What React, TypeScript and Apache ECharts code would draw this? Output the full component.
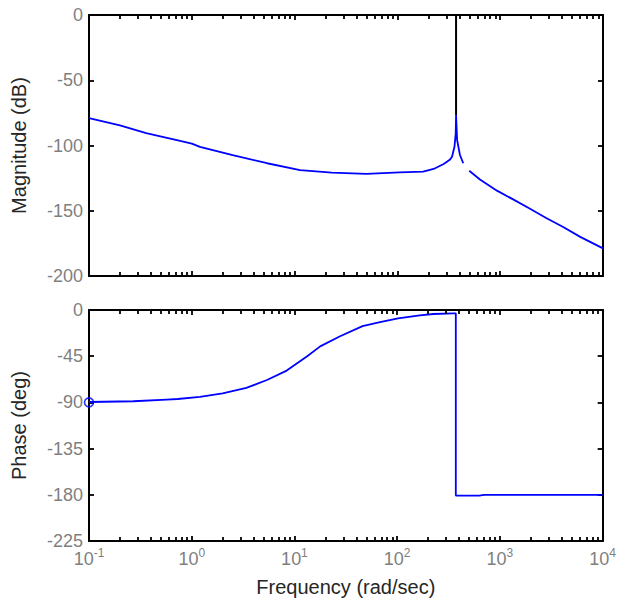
import React, { useEffect, useRef } from 'react';
import * as echarts from 'echarts';

// Magnitude (dB) vs frequency (rad/sec)
const magFreq = [0.1, 0.2, 0.36, 0.77, 1, 1.2, 2.5, 5.4, 11.3, 23, 50, 105, 178, 225, 282, 323, 340, 359, 369, 372, 381, 406, 437, 465, 500, 635, 930, 1350, 1950, 2800, 4100, 6000, 10000];
const magDb = [-79, -84.6, -90.5, -96.5, -98.5, -101, -107.3, -113.6, -118.8, -120.8, -121.8, -120.6, -120, -118, -114.2, -111, -108.6, -101, -91, -76.6, -95.8, -107.3, -113.6, null, -119.3, -126, -134.6, -141.5, -148.5, -155.5, -162.5, -170, -178.8];

// Spike drawn in black above the resonance peak
const spikeFreq = [372, 372];
const spikeDb = [-76.6, 0];

// Phase (deg) vs frequency (rad/sec)
const phaseFreq = [0.1, 0.27, 0.57, 0.73, 1.2, 2.0, 3.4, 5.4, 8.4, 13.2, 17.8, 27.8, 46, 68, 102, 166, 225, 355, 372, 372, 630, 700, 10000];
const phaseDeg = [-89.6, -88.9, -87.2, -86.7, -84.6, -81.3, -75.8, -68.2, -59, -45.3, -35.4, -25.6, -15.7, -11.8, -8.2, -5.2, -3.9, -3.2, -3.2, -180.8, -180.8, -180, -180];

// Start marker
const markerFreq = [0.1];
const markerDeg = [-90];

// Axis ranges / ticks
const decades = [0.1, 1, 10, 100, 1000];
const minorMultipliers = [2, 3, 4, 5, 6, 7, 8, 9];
const magRange = [-200, 0];
const magStep = 50;
const phaseRange = [-225, 0];
const phaseStep = 45;

const minorFreqs: number[] = [];
decades.forEach((d) => minorMultipliers.forEach((m) => minorFreqs.push(d * m)));

const LABEL_COLOR = '#7f7f7f';
const NAME_COLOR = '#262626';
const FONT = 'Liberation Sans, Arial, sans-serif';

// minor tick segments at bottom and top edges, in data units (tickLen ≈ 4px of the axis)
function minorTickMarkLine(range: number[], tickLen: number) {
  const data: any[] = [];
  minorFreqs.forEach((f) => {
    data.push([{ coord: [f, range[0]] }, { coord: [f, range[0] + tickLen] }]);
    data.push([{ coord: [f, range[1]] }, { coord: [f, range[1] - tickLen] }]);
  });
  return {
    silent: true,
    symbol: ['none', 'none'],
    label: { show: false },
    emphasis: { disabled: true },
    lineStyle: { color: '#000', width: 1.8, type: 'solid' },
    data,
  };
}

function xAxisDef(gridIndex: number, position: 'top' | 'bottom', withLabels: boolean) {
  return {
    type: 'log',
    logBase: 10,
    gridIndex,
    position,
    min: 0.1,
    max: 10000,
    splitNumber: 5,
    axisLine: { show: true, onZero: false, lineStyle: { color: '#000', width: 2 } },
    axisTick: { show: true, inside: true, length: 5, lineStyle: { color: '#000', width: 1.8 } },
    splitLine: { show: false },
    minorTick: { show: false },
    axisLabel: withLabels
      ? {
          show: true,
          margin: 6,
          color: LABEL_COLOR,
          fontFamily: FONT,
          formatter: (v: number) => `{b|10}{sup|${Math.round(Math.log10(v))}}`,
          rich: {
            b: { fontSize: 18, color: LABEL_COLOR, fontFamily: FONT, verticalAlign: 'bottom' },
            sup: { fontSize: 12, color: LABEL_COLOR, fontFamily: FONT, verticalAlign: 'bottom', padding: [0, 0, 9, 0] },
          },
        }
      : { show: false },
    name: withLabels ? 'Frequency (rad/sec)' : '',
    nameLocation: 'middle',
    nameGap: 36,
    nameTextStyle: { color: NAME_COLOR, fontSize: 20, fontFamily: FONT },
  };
}

function yAxisDef(gridIndex: number, position: 'left' | 'right', range: number[], step: number, name: string) {
  const left = position === 'left';
  return {
    type: 'value',
    gridIndex,
    position,
    min: range[0],
    max: range[1],
    interval: step,
    axisLine: { show: true, onZero: false, lineStyle: { color: '#000', width: 2 } },
    axisTick: { show: true, inside: true, length: 5, lineStyle: { color: '#000', width: 1.8 } },
    splitLine: { show: false },
    axisLabel: left
      ? { show: true, margin: 6, color: LABEL_COLOR, fontSize: 18, fontFamily: FONT }
      : { show: false },
    name: left ? name : '',
    nameLocation: 'middle',
    nameGap: 60,
    nameTextStyle: { color: NAME_COLOR, fontSize: 20, fontFamily: FONT },
  };
}

export default function App() {
  const ref = useRef<HTMLDivElement>(null);

  useEffect(() => {
    if (!ref.current) return;
    const chart = echarts.init(ref.current, undefined, { renderer: 'svg' });
    const line = (freq: number[], vals: (number | null)[]) =>
      freq.map((f, i) => [f, vals[i] === null ? '-' : vals[i]]);

    chart.setOption({
      animation: false,
      backgroundColor: '#ffffff',
      textStyle: { fontFamily: FONT },
      grid: [
        { left: 89, top: 15, width: 514, height: 261, containLabel: false },
        { left: 89, top: 310, width: 514, height: 231, containLabel: false },
      ],
      xAxis: [
        xAxisDef(0, 'bottom', false),
        xAxisDef(0, 'top', false),
        xAxisDef(1, 'bottom', true),
        xAxisDef(1, 'top', false),
      ],
      yAxis: [
        yAxisDef(0, 'left', magRange, magStep, 'Magnitude (dB)'),
        yAxisDef(0, 'right', magRange, magStep, ''),
        yAxisDef(1, 'left', phaseRange, phaseStep, 'Phase (deg)'),
        yAxisDef(1, 'right', phaseRange, phaseStep, ''),
      ],
      series: [
        {
          type: 'line',
          xAxisIndex: 0,
          yAxisIndex: 0,
          data: line(magFreq, magDb),
          showSymbol: false,
          connectNulls: false,
          lineStyle: { color: '#0000ff', width: 1.8 },
          itemStyle: { color: '#0000ff' },
          z: 3,
          markLine: minorTickMarkLine(magRange, 3.1),
        },
        {
          type: 'line',
          xAxisIndex: 0,
          yAxisIndex: 0,
          data: line(spikeFreq, spikeDb),
          showSymbol: false,
          lineStyle: { color: '#000000', width: 2 },
          itemStyle: { color: '#000000' },
          z: 3,
        },
        {
          type: 'line',
          xAxisIndex: 2,
          yAxisIndex: 2,
          data: line(phaseFreq, phaseDeg),
          showSymbol: false,
          lineStyle: { color: '#0000ff', width: 1.8 },
          itemStyle: { color: '#0000ff' },
          z: 3,
          markLine: minorTickMarkLine(phaseRange, 3.9),
        },
        {
          type: 'scatter',
          xAxisIndex: 2,
          yAxisIndex: 2,
          data: line(markerFreq, markerDeg),
          symbol: 'circle',
          symbolSize: 9,
          clip: false,
          itemStyle: { color: 'rgba(0,0,0,0)', borderColor: '#0000ff', borderWidth: 1.6 },
          z: 6,
        },
      ],
    });
    return () => chart.dispose();
  }, []);

  return (
    <div
      ref={ref}
      style={{ position: 'fixed', left: 0, top: 0, width: 619, height: 604, background: '#fff' }}
    />
  );
}
